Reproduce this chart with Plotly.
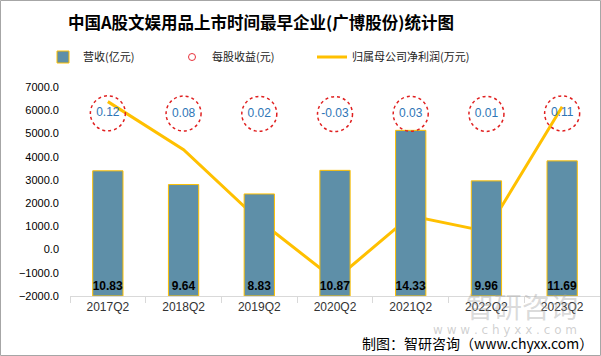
import plotly.graph_objects as go

categories = ["2017Q2", "2018Q2", "2019Q2", "2020Q2", "2021Q2", "2022Q2", "2023Q2"]
revenue = [10.83, 9.64, 8.83, 10.87, 14.33, 9.96, 11.69]          # 营收(亿元)
eps = [0.12, 0.08, 0.02, -0.03, 0.03, 0.01, 0.11]                 # 每股收益(元)
net_profit = [6370, 4300, 1250, -1300, 1450, 780, 6150]           # 归属母公司净利润(万元)
y_ticks = [-2000, -1000, 0, 1000, 2000, 3000, 4000, 5000, 6000, 7000]

BAR = "#5E8FA8"
GOLD = "#FFC000"
FONT = "Noto Sans CJK SC"

fig = go.Figure()

fig.add_trace(go.Bar(
    x=categories, y=revenue, yaxis="y2", name="营收(亿元)", legend="legend",
    marker=dict(color=BAR, line=dict(color=GOLD, width=1)),
    width=0.4,
    texttemplate="<b>%{y}</b>", textposition="inside", insidetextanchor="start",
    textangle=0, constraintext="none",
    textfont=dict(color="black", size=12, family="Liberation Sans"),
))

# legend-only entry for EPS
fig.add_trace(go.Scatter(
    x=[None], y=[None], mode="markers", name="每股收益(元)", legend="legend2",
    marker=dict(symbol="circle-open", size=7, color="#E8323C", line=dict(width=1)),
))

fig.add_trace(go.Scatter(
    x=categories, y=net_profit, yaxis="y", mode="lines", name="归属母公司净利润(万元)",
    legend="legend3",
    line=dict(color=GOLD, width=3),
))

fig.add_trace(go.Scatter(
    x=categories, y=eps, yaxis="y3", mode="text", showlegend=False,
    text=[f"{v:.2f}" for v in eps],
    textfont=dict(color="#2E75B6", size=12, family="Liberation Sans"),
))

shapes = []
for c, v in zip(categories, eps):
    shapes.append(dict(
        type="circle", xref="x", yref="y3",
        xsizemode="pixel", ysizemode="pixel",
        xanchor=c, yanchor=v, x0=-17.5, x1=17.5, y0=-17.5, y1=17.5,
        line=dict(color="#E02020", width=1.5, dash="dot"),
        layer="above",
    ))

# outer frame of the picture
shapes.append(dict(type="rect", xref="paper", yref="paper",
                   x0=(-70 + 0.5) / 530, x1=(531 - 0.5) / 530,
                   y0=(-60 + 0.5) / 209, y1=(296 - 0.5) / 209,
                   line=dict(color="#A6A6A6", width=1), layer="above"))

annotations = [
    dict(text="制图：智研咨询（www.chyxx.com）", xref="paper", yref="paper",
         x=(595 - 70) / 530, y=-(343 - 296) / 209, xanchor="right", yanchor="middle",
         showarrow=False, font=dict(size=14, color="black", family=FONT)),
    dict(text="智研咨询", xref="paper", yref="paper",
         x=(522 - 70) / 530, y=-(306 - 296) / 209, xanchor="center", yanchor="middle",
         showarrow=False, font=dict(size=28, color="rgba(160,160,160,0.4)", family=FONT)),
    dict(text="w w w . c h y x x . c o m", xref="paper", yref="paper",
         x=(505 - 70) / 530, y=-(330 - 296) / 209, xanchor="center", yanchor="middle",
         showarrow=False, font=dict(size=12, color="rgba(150,150,150,0.45)", family="DejaVu Sans")),
]

leg_common = dict(orientation="h", yanchor="middle", y=(296 - 57) / 209 + 0.0,
                  font=dict(size=11, color="#222", family=FONT),
                  bgcolor="rgba(0,0,0,0)")

fig.update_layout(
    width=601, height=356,
    margin=dict(l=70, r=1, t=87, b=60, autoexpand=False),
    paper_bgcolor="white", plot_bgcolor="white",
    title=dict(text="<b>中国A股文娱用品上市时间最早企业(广博股份)统计图</b>",
               x=261 / 601, xanchor="center", y=1 - 23 / 356, yanchor="middle",
               yref="container",
               font=dict(size=16.5, color="black", family=FONT)),
    legend=dict(x=(43 - 70) / 530, xanchor="left", **leg_common),
    legend2=dict(x=(172 - 70) / 530, xanchor="left", **leg_common),
    legend3=dict(x=(312 - 70) / 530, xanchor="left", **leg_common),
    bargap=0.6,
    xaxis=dict(type="category", showline=True, linecolor="#D9D9D9", linewidth=1,
               ticks="outside", tickson="boundaries", ticklen=6, tickcolor="#D9D9D9",
               tickfont=dict(size=12, color="#333", family="Liberation Sans"),
               showgrid=False),
    yaxis=dict(range=[-2000, 7000], tickvals=y_ticks, tickformat=".1f",
               showgrid=False, zeroline=False, showline=False, ticklabelstandoff=10,
               tickfont=dict(size=11, color="black", family="Liberation Sans")),
    yaxis2=dict(range=[0, 18.08], overlaying="y", side="right", visible=False),
    yaxis3=dict(range=[-34.84, 5.16], overlaying="y", side="right", visible=False),
    shapes=shapes,
    annotations=annotations,
)

fig.write_html("out.html", config={"displayModeBar": False},
               post_script="document.body.style.margin='0';document.body.style.overflow='hidden';")
